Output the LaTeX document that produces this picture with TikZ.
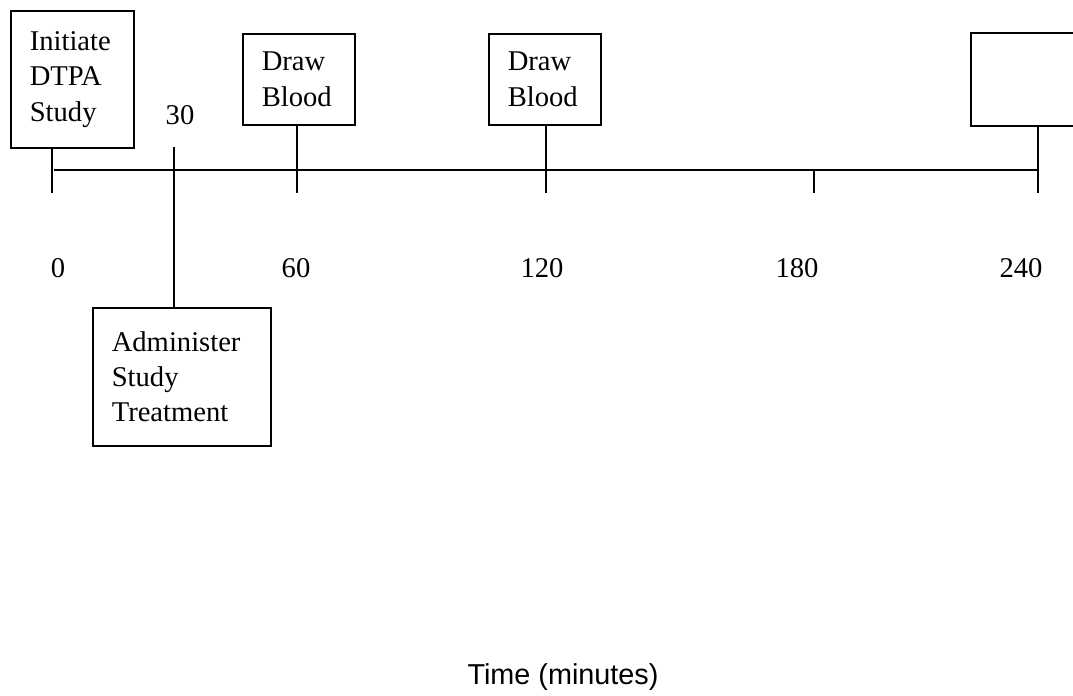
\documentclass[tikz,border=0pt]{standalone}
\usepackage{fontspec}
\setmainfont{Liberation Serif}
\newfontfamily\labelsans{Liberation Sans}
\usetikzlibrary{positioning}

\begin{document}
\begin{tikzpicture}[
    x=0.5pt, y=-0.5pt,
    event/.style={rectangle, draw=black, line width=0.8pt, fill=white,
                  anchor=north west, align=left, inner xsep=9.5pt,
                  font=\fontsize{14.3pt}{17.7pt}\selectfont},
    tick/.style={line width=0.8pt},
    mark label/.style={font=\fontsize{14.3pt}{17.7pt}\selectfont}
]
\clip (0,0) rectangle (1073,696);

% Axis points
\coordinate (axl) at (54,170);
\coordinate (axr) at (1038,170);
\coordinate (b0) at (52,193);
\coordinate (a30) at (174,147);
\coordinate (b60) at (297,193);
\coordinate (b120) at (546,193);
\coordinate (a180) at (814,170);
\coordinate (b180) at (814,193);
\coordinate (b240) at (1038,193);

% Events
\node[event, text width=42.5pt, minimum height=68.5pt] (initiate) at (10,10) {Initiate\\DTPA\\Study};
\node[event, text width=37pt, minimum height=45.5pt] (blood1) at (242,33) {Draw\\Blood};
\node[event, text width=37pt, minimum height=45.5pt] (blood2) at (488,33) {Draw\\Blood};
\node[event, text width=41pt, minimum height=46.5pt] (blank) at (970,32) {};
\node[event, text width=70pt, minimum height=69pt] (administer) at (92,307) {Administer\\Study\\Treatment};

% Timeline
\draw[tick] (axl) -- (axr);
\draw[tick] (b0 |- initiate.south) -- (b0);
\draw[tick] (a30) -- (a30 |- administer.north);
\draw[tick] (b60 |- blood1.south) -- (b60);
\draw[tick] (b120 |- blood2.south) -- (b120);
\draw[tick] (a180) -- (b180);
\draw[tick] (b240 |- blank.south) -- (b240);

% Minute labels
\node[mark label] (m30) at (180,115) {30};
\node[mark label] (m0) at (58,268) {0};
\node[mark label] (m60) at (296,268) {60};
\node[mark label] (m120) at (542,268) {120};
\node[mark label] (m180) at (797,268) {180};
\node[mark label] (m240) at (1021,268) {240};

\node[font=\labelsans\fontsize{14.4pt}{17pt}\selectfont] (axis title) at (563,677) {Time (minutes)};
\end{tikzpicture}
\end{document}
